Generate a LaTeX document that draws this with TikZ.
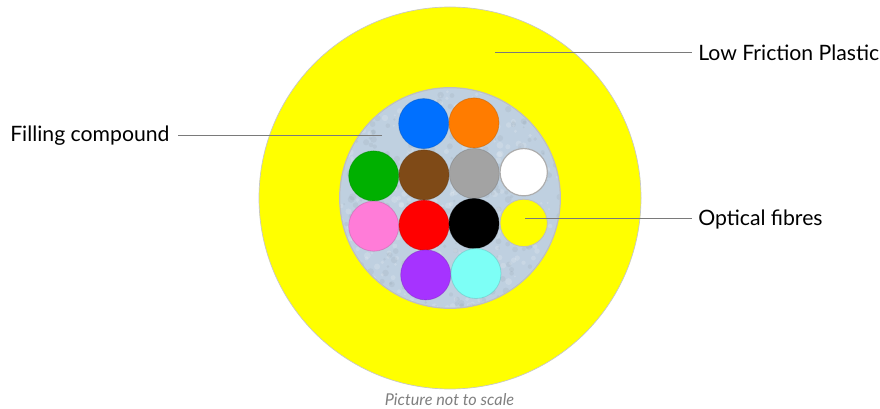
\documentclass[tikz,border=0pt]{standalone}
\usepackage{fontspec}
\setmainfont{Lato}
\tikzset{
  fibre/.style={circle,draw=#1!75!black,draw opacity=.45,line width=.6pt,minimum size=37.5pt,inner sep=0pt,fill=#1},
  lbl/.style={inner sep=0pt,font=\fontsize{15.9pt}{18pt}\selectfont,text=black},
  leader/.style={draw=black!52,line width=.75pt},
}
\definecolor{fblue}{HTML}{0070FF}
\definecolor{forange}{HTML}{FF7C00}
\definecolor{fgreen}{HTML}{00B000}
\definecolor{fbrown}{HTML}{7F4A17}
\definecolor{fgrey}{HTML}{A3A3A3}
\definecolor{fpink}{HTML}{FF7CD8}
\definecolor{fred}{HTML}{FF0000}
\definecolor{fpurple}{HTML}{A633FF}
\definecolor{fcyan}{HTML}{7DFFF6}
\definecolor{fyellow}{HTML}{FFFF00}
\definecolor{fill}{HTML}{BFD0E0}
\begin{document}
\begin{tikzpicture}[x=.75pt,y=-.75pt]
\useasboundingbox (0,0) rectangle (880,409);
\fill[white] (0,0) rectangle (880,409);
\node[circle,draw=black!22,line width=.5pt,fill=fyellow,minimum size=286.5pt,inner sep=0pt] (jacket) at (450,198) {};
\node[circle,draw=black!25,line width=.9pt,fill=fill,minimum size=165.5pt,inner sep=0pt] (core) at (450,198) {};
\begin{scope}
\clip (450,198) circle (109.5);
\pgfmathsetseed{7}
\foreach \i in {1,...,700}{
  \pgfmathsetmacro{\px}{340+220*rnd}
  \pgfmathsetmacro{\py}{88+220*rnd}
  \pgfmathsetmacro{\pr}{1+2.5*rnd}
  \ifodd\i\relax
    \fill[white,opacity=.16] (\px,\py) circle (\pr);
  \else
    \fill[black!40!fill,opacity=.10] (\px,\py) circle (\pr);
  \fi
}
\end{scope}
\node[fibre=fblue] (f1) at (423.7,123.6) {};
\node[fibre=forange] (f2) at (474,122.9) {};
\node[fibre=fgreen] (f3) at (373.7,175.9) {};
\node[fibre=fbrown] (f4) at (424,174.9) {};
\node[fibre=fgrey] (f5) at (474.3,173.5) {};
\node[circle,draw=black!32,line width=.9pt,fill=white,minimum size=35.5pt,inner sep=0pt] (f6) at (523.7,172.2) {};
\node[fibre=fpink] (f7) at (373.7,226.2) {};
\node[fibre=fred] (f8) at (424,225.2) {};
\node[fibre=black] (f9) at (474,223.5) {};
\node[circle,draw=black!25,line width=.6pt,fill=fyellow,minimum size=35.5pt,inner sep=0pt] (f10) at (523.7,222.9) {};
\node[fibre=fpurple] (f11) at (425.7,274.9) {};
\node[fibre=fcyan] (f12) at (476,273.5) {};
\node[lbl,anchor=base west] (low) at (698,60.5) {Low Friction Plastic};
\node[lbl,anchor=base west] (opt) at (698,225.5) {Optical fibres};
\node[lbl,anchor=base west] (fil) at (10,142) {Filling compound};
\node[inner sep=0pt,anchor=base,font=\fontsize{12.2pt}{14pt}\selectfont\itshape,text=black!50] (note) at (449.5,405) {Picture not to scale};
\coordinate (a1) at (495,53);
\coordinate (a1e) at (692,53);
\coordinate (a2) at (382,136);
\coordinate (a2e) at (178,136);
\coordinate (a3) at (525,219);
\coordinate (a3e) at (692,219);
\draw[leader] (a1) -- (a1e);
\draw[leader] (a2) -- (a2e);
\draw[leader] (a3) -- (a3e);
\end{tikzpicture}
\end{document}
